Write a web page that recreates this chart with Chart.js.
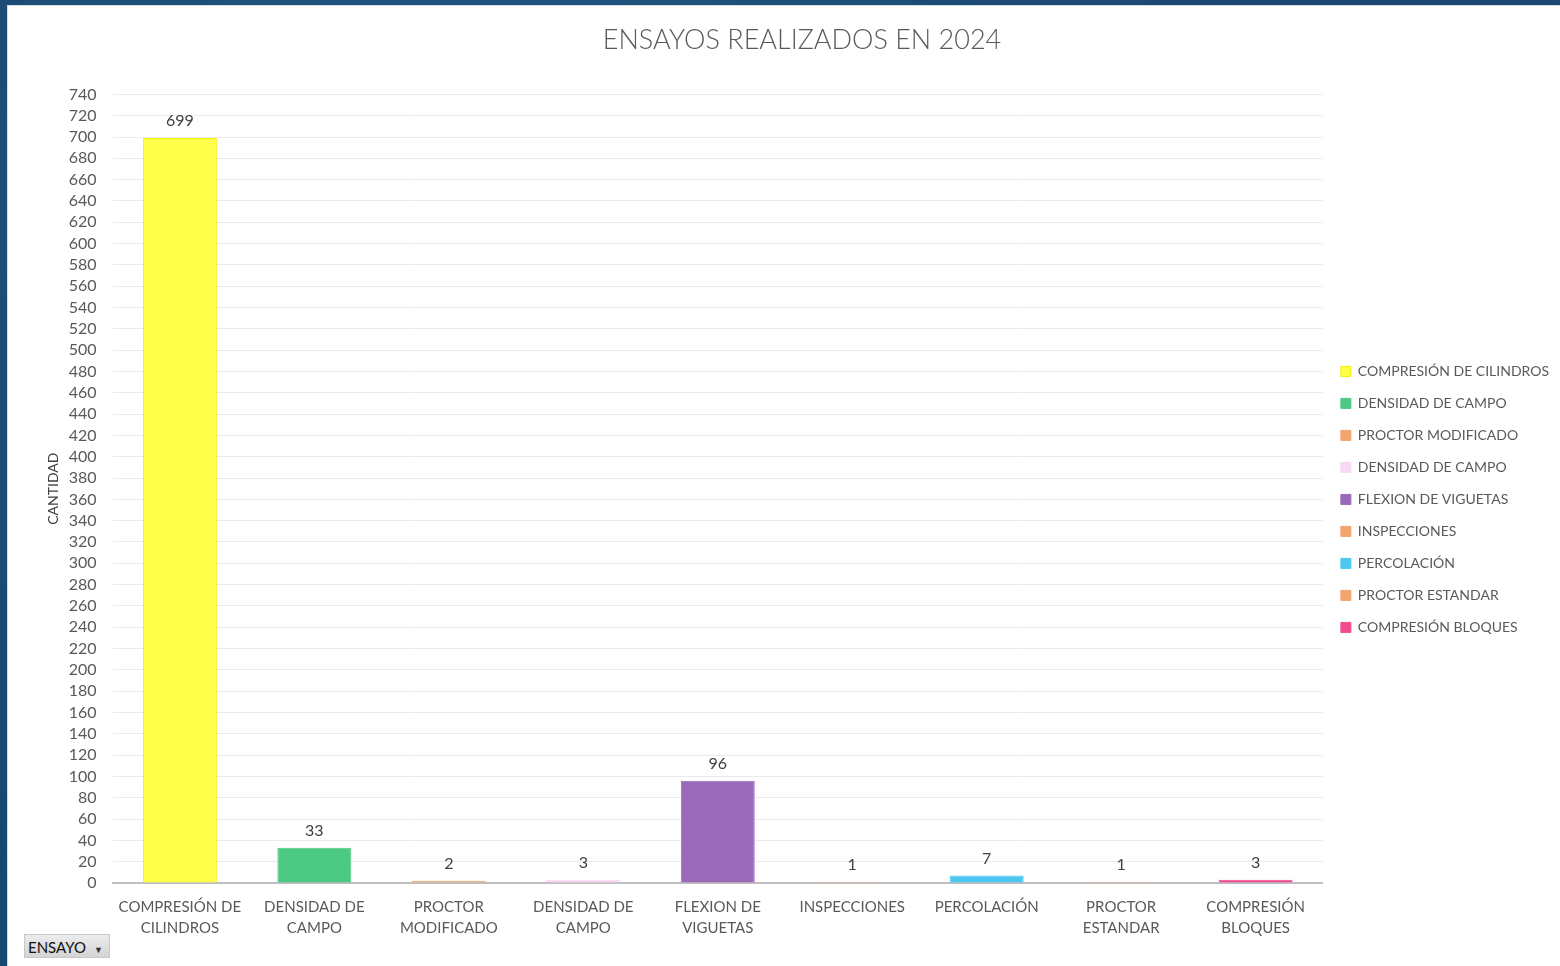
<!DOCTYPE html>
<html>
<head>
<meta charset="utf-8">
<script src="https://cdn.jsdelivr.net/npm/chart.js@4.4.1/dist/chart.umd.min.js"></script>
<style>
    html, body { margin: 0; padding: 0; }
    body {
        width: 1560px; height: 966px; overflow: hidden;
        background: #1d4f7d;
        background-image: radial-gradient(circle at 30% 20%, #215683 0, #19476f 60%, #1b4a76 100%);
        font-family: Lato, 'Open Sans', sans-serif;
    }
    #panel {
        position: absolute; left: 7px; top: 5px; width: 1553px; height: 961px;
        background: #ffffff; border-top: 1px solid #d9d9d9; border-left: 1px solid #d9d9d9;
    }
    #grafico { position: absolute; left: 0; top: 0; }
    #boton {
        position: absolute; left: 16px; top: 928px; width: 86px; height: 24px;
        background: linear-gradient(#ececec, #d4d4d4); border: 1px solid #c8c8c8;
        font-size: 15px; color: #111; line-height: 24px; padding-left: 3px; box-sizing: border-box;
    }
    #boton span { font-size: 9px; margin-left: 8px; color: #333; }
</style>
</head>
<body>
<div id="panel">
    <canvas id="grafico" width="1553" height="961"></canvas>
    <div id="boton">ENSAYO<span>&#9660;</span></div>
</div>
<script>
// datos
const ensayos = ['COMPRESIÓN DE CILINDROS', 'DENSIDAD DE CAMPO', 'PROCTOR MODIFICADO', 'DENSIDAD DE CAMPO',
    'FLEXION DE VIGUETAS', 'INSPECCIONES', 'PERCOLACIÓN', 'PROCTOR ESTANDAR', 'COMPRESIÓN BLOQUES']
const etiquetasEje = [['COMPRESIÓN DE', 'CILINDROS'], ['DENSIDAD DE', 'CAMPO'], ['PROCTOR', 'MODIFICADO'],
    ['DENSIDAD DE', 'CAMPO'], ['FLEXION DE', 'VIGUETAS'], 'INSPECCIONES', 'PERCOLACIÓN',
    ['PROCTOR', 'ESTANDAR'], ['COMPRESIÓN', 'BLOQUES']]
const cantidades = [699, 33, 2, 3, 96, 1, 7, 1, 3]
const coloresBarra = ['#ffff4a', '#4cc983', '#f4a46e', '#f9d8f4', '#9a6ab9', '#f4a46e', '#4cc8f2', '#f4a46e', '#f24b8f']
const coloresBorde = ['#f0f000', '#4cc983', '#f4a46e', '#f9d8f4', '#9a6ab9', '#f4a46e', '#4cc8f2', '#f4a46e', '#f24b8f']

const fuente = "Lato, 'Open Sans', sans-serif"
const gris = '#595959'

// etiquetas de valor sobre cada barra
const etiquetasValor = {
    id: 'etiquetasValor',
    afterDatasetsDraw(chart) {
        const ctx = chart.ctx
        const meta = chart.getDatasetMeta(0)
        ctx.save()
        ctx.font = '16px ' + fuente
        ctx.fillStyle = '#404040'
        ctx.textAlign = 'center'
        ctx.textBaseline = 'bottom'
        meta.data.forEach((barra, i) => {
            ctx.fillText(cantidades[i], barra.x, barra.y - 9)
        })
        ctx.restore()
    }
}

const grafico = new Chart(document.getElementById('grafico'), {
    type: 'bar',
    data: {
        labels: etiquetasEje,
        datasets: [{
            label: 'CANTIDAD',
            data: cantidades,
            backgroundColor: coloresBarra,
            borderColor: coloresBorde,
            borderWidth: 1,
            categoryPercentage: 1,
            barPercentage: 0.55
        }]
    },
    options: {
        responsive: false,
        animation: false,
        layout: {
            padding: { left: 37, right: 2, top: 0, bottom: 22 }
        },
        plugins: {
            title: {
                display: true,
                text: 'ENSAYOS REALIZADOS EN 2024',
                color: gris,
                font: { family: fuente, size: 27, weight: '300' },
                padding: { top: 18, bottom: 38 }
            },
            legend: {
                position: 'right',
                title: {
                    display: true,
                    text: ' ',
                    font: { family: fuente, size: 14 },
                    padding: { top: 31, bottom: 0 }
                },
                labels: {
                    color: gris,
                    font: { family: fuente, size: 14 },
                    boxWidth: 10,
                    boxHeight: 10,
                    padding: 18,
                    generateLabels: function (chart) {
                        return ensayos.map((nombre, i) => ({
                            text: nombre,
                            fillStyle: coloresBarra[i],
                            strokeStyle: coloresBorde[i],
                            lineWidth: 1,
                            fontColor: gris,
                            hidden: false,
                            index: i
                        }))
                    }
                },
                onClick: function () { }
            },
            tooltip: { enabled: false }
        },
        scales: {
            x: {
                ticks: {
                    color: gris,
                    font: { family: fuente, size: 15, lineHeight: 1.4 },
                    maxRotation: 0,
                    autoSkip: false,
                    padding: 6
                },
                grid: { display: false },
                border: { color: '#bfbfbf', width: 2 }
            },
            y: {
                min: 0,
                max: 740,
                ticks: {
                    stepSize: 20,
                    autoSkip: false,
                    color: gris,
                    font: { family: fuente, size: 16 },
                    padding: 16
                },
                grid: { color: '#ebebeb', drawTicks: false },
                border: { display: false },
                title: {
                    display: true,
                    text: 'CANTIDAD',
                    color: '#404040',
                    font: { family: fuente, size: 14 },
                    padding: { top: 0, bottom: -9 }
                }
            }
        }
    },
    plugins: [etiquetasValor]
})
</script>
</body>
</html>
